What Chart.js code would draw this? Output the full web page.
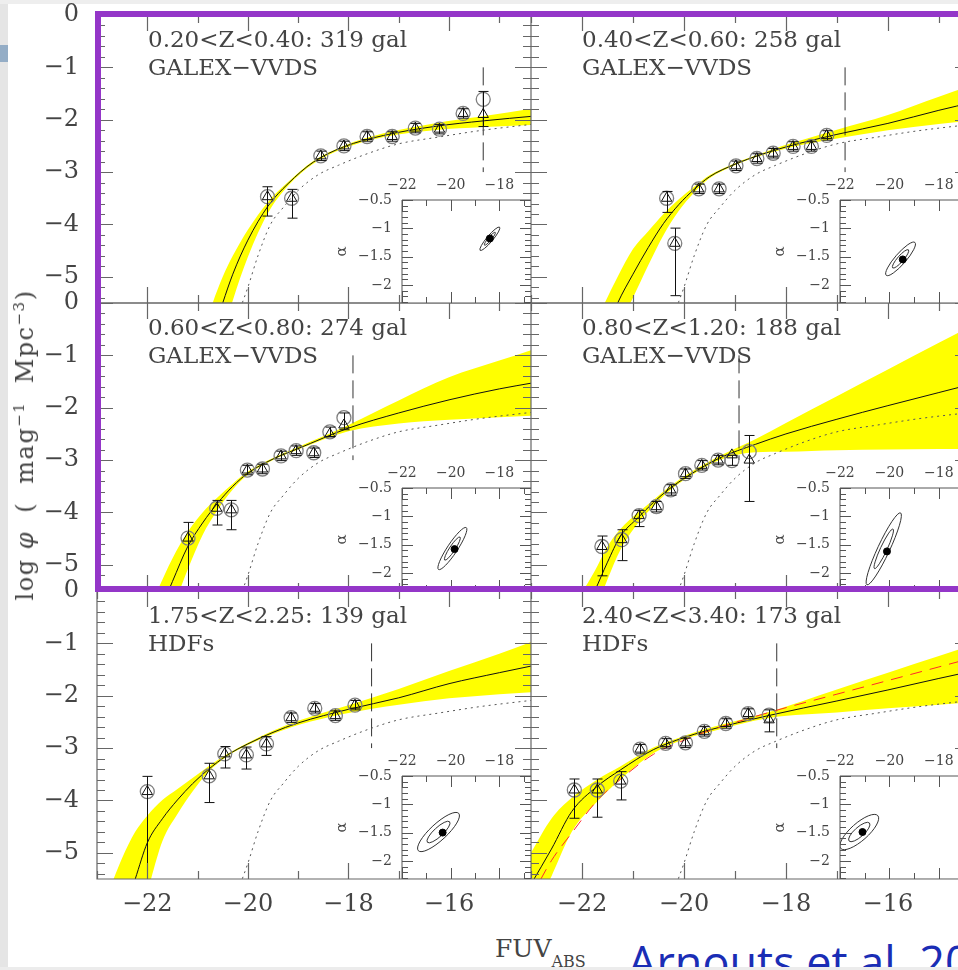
<!DOCTYPE html>
<html>
<head>
<meta charset="utf-8">
<script src="https://cdn.jsdelivr.net/npm/chart.js@4.4.0/dist/chart.umd.min.js"></script>
<style>
  html, body { margin: 0; padding: 0; }
  body { width: 958px; height: 970px; overflow: hidden; background: #fff; position: relative; font-family: "DejaVu Serif", serif; }
  canvas { position: absolute; }
  .strip { position: absolute; background: #e5e5e5; }
  #frame { position: absolute; left: 95px; top: 11px; width: 900px; height: 581px; box-sizing: border-box; border: 6px solid #9436c8; }
  #ytitle { position: absolute; left: 25px; top: 445px; transform: translate(-50%, -50%) rotate(-90deg); white-space: nowrap; font-size: 24px; color: #444; letter-spacing: 1.5px; }
  #ytitle sup { font-size: 15px; vertical-align: 9px; line-height: 0; }
  #xtitle { position: absolute; left: 495px; top: 936px; font-size: 25px; line-height: 25px; color: #444; white-space: nowrap; }
  #xtitle span { font-size: 16px; position: relative; top: 10px; }
  #credit { position: absolute; left: 628px; top: 939px; font-family: "Open Sans", sans-serif; font-size: 45px; line-height: 45px; color: #1a2db5; white-space: nowrap; }
</style>
</head>
<body>
<div class="strip" style="left:0;top:0;width:8px;height:970px"></div>
<div class="strip" style="left:0;top:0;width:958px;height:4px;background:#eeeeee"></div>
<div style="position:absolute;left:0;top:45px;width:8px;height:17px;background:#94adc6"></div>

<script>
// tick labels
const magTicks = [-22, -20, -18, -16];
const phiTicks = [0, -1, -2, -3, -4, -5];
const insetMagTicks = [-22, -20, -18];
const insetAlphaTicks = [-0.5, -1, -1.5, -2];

// dotted reference curve (same in every panel)
const refMag = [-20.15, -20.0, -19.8, -19.55, -19.3, -19.0, -18.6, -18.2, -17.6, -17.0, -16.2, -15.4, -14.2];
const refPhi = [-5.6, -5.2, -4.6, -4.0, -3.68, -3.35, -3.05, -2.87, -2.64, -2.46, -2.33, -2.21, -2.07];

// panel 1: 0.20<z<0.40
const p1Label = ['0.20<Z<0.40: 319 gal', 'GALEX\u2212VVDS'];
const p1Mag = [-19.61, -19.13, -18.55, -18.09, -17.63, -17.13, -16.67, -16.19, -15.72, -15.32];
const p1Circ = [-3.47, -3.50, -2.69, -2.50, -2.32, -2.32, -2.16, -2.18, -1.88, -1.61];
const p1Tri = [-3.47, -3.50, -2.69, -2.50, -2.32, -2.32, -2.16, -2.18, -1.88, -1.90];
const p1Hi = [-3.28, -3.33, -2.60, -2.41, -2.23, -2.23, -2.07, -2.09, -1.79, -1.46];
const p1Lo = [-3.84, -3.88, -2.78, -2.59, -2.41, -2.41, -2.25, -2.27, -1.97, -2.13];
const p1FitMag = [-21.0, -20.7, -20.5, -20.3, -20.0, -19.6, -19.2, -18.7, -18.1, -17.3, -16.3, -15.3, -14.3];
const p1Fit = [-7.05, -6.1, -5.5, -4.95, -4.3, -3.65, -3.22, -2.81, -2.52, -2.3, -2.13, -2.02, -1.93];
const p1BandHi = [-6.42, -5.5, -5.0, -4.6, -4.1, -3.57, -3.19, -2.79, -2.5, -2.26, -2.07, -1.93, -1.78];
const p1BandLo = [-8.0, -7.0, -6.1, -5.45, -4.62, -3.78, -3.26, -2.84, -2.55, -2.33, -2.2, -2.14, -2.10];
const p1Lim = -15.32;
const p1Best = [-18.39, -1.18];
const p1Ellipse = [-18.39, -1.185, 0.40, 0.205, 0.2];

// panel 2: 0.40<z<0.60
const p2Label = ['0.40<Z<0.60: 258 gal', 'GALEX\u2212VVDS'];
const p2Mag = [-20.34, -20.18, -19.71, -19.31, -18.98, -18.57, -18.25, -17.86, -17.50, -17.20];
const p2Circ = [-3.50, -4.36, -3.32, -3.32, -2.88, -2.74, -2.64, -2.51, -2.51, -2.30];
const p2Tri = [-3.50, -4.36, -3.32, -3.32, -2.88, -2.74, -2.64, -2.51, -2.51, -2.30];
const p2Hi = [-3.37, -4.07, -3.23, -3.23, -2.79, -2.65, -2.55, -2.42, -2.42, -2.21];
const p2Lo = [-3.77, -5.36, -3.41, -3.41, -2.97, -2.83, -2.73, -2.60, -2.60, -2.39];
const p2FitMag = [-21.8, -21.3, -21.0, -20.7, -20.4, -20.1, -19.8, -19.5, -19.0, -18.5, -18.0, -17.0, -16.0, -15.0, -14.3];
const p2Fit = [-6.7, -5.5, -4.95, -4.44, -3.98, -3.62, -3.33, -3.09, -2.85, -2.67, -2.52, -2.28, -2.07, -1.82, -1.66];
const p2BandHi = [-6.0, -5.0, -4.47, -4.13, -3.8, -3.52, -3.28, -3.06, -2.83, -2.65, -2.48, -2.19, -1.91, -1.56, -1.33];
const p2BandLo = [-7.5, -6.0, -5.4, -4.78, -4.2, -3.74, -3.39, -3.12, -2.87, -2.69, -2.55, -2.36, -2.2, -2.08, -2.02];
const p2Lim = -16.84;
const p2Best = [-19.46, -1.55];
const p2Ellipse = [-19.55, -1.54, 0.58, 0.29, 0.25];

// panel 3: 0.60<z<0.80
const p3Label = ['0.60<Z<0.80: 274 gal', 'GALEX\u2212VVDS'];
const p3Mag = [-21.19, -20.62, -20.33, -20.01, -19.71, -19.34, -19.04, -18.69, -18.37, -18.09];
const p3Circ = [-4.49, -3.92, -3.95, -3.19, -3.17, -2.92, -2.82, -2.86, -2.46, -2.19];
const p3Tri = [-4.49, -3.92, -3.95, -3.19, -3.17, -2.92, -2.82, -2.86, -2.50, -2.33];
const p3Hi = [-4.19, -3.77, -3.77, -3.10, -3.08, -2.83, -2.73, -2.77, -2.37, -2.10];
const p3Lo = [-5.80, -4.24, -4.33, -3.28, -3.26, -3.01, -2.91, -2.95, -2.55, -2.42];
const p3FitMag = [-22.2, -21.8, -21.5, -21.2, -20.9, -20.6, -20.3, -20.0, -19.5, -19.0, -18.0, -17.0, -16.0, -15.0, -14.3];
const p3Fit = [-6.9, -6.0, -5.32, -4.66, -4.2, -3.82, -3.5, -3.25, -2.98, -2.78, -2.39, -2.1, -1.85, -1.64, -1.52];
const p3BandHi = [-6.4, -5.5, -4.88, -4.38, -4.0, -3.71, -3.45, -3.22, -2.96, -2.75, -2.33, -1.86, -1.42, -1.1, -0.88];
const p3BandLo = [-7.5, -6.45, -5.85, -5.1, -4.43, -3.95, -3.56, -3.28, -3.0, -2.8, -2.45, -2.3, -2.23, -2.18, -2.15];
const p3Lim = -17.91;
const p3Best = [-19.84, -1.58];
const p3Ellipse = [-19.93, -1.57, 0.57, 0.37, 0.2];

// panel 4: 0.80<z<1.20
const p4Label = ['0.80<Z<1.20: 188 gal', 'GALEX\u2212VVDS'];
const p4Mag = [-21.61, -21.22, -20.88, -20.54, -20.26, -19.97, -19.65, -19.33, -19.06, -18.72];
const p4Circ = [-4.65, -4.52, -4.06, -3.89, -3.57, -3.26, -3.10, -3.00, -3.01, -2.84];
const p4Tri = [-4.65, -4.52, -4.06, -3.89, -3.57, -3.26, -3.10, -3.00, -2.90, -3.00];
const p4Hi = [-4.45, -4.33, -3.96, -3.79, -3.47, -3.17, -3.01, -2.91, -2.91, -2.53];
const p4Lo = [-5.21, -4.92, -4.27, -3.99, -3.67, -3.35, -3.19, -3.09, -3.10, -3.79];
const p4FitMag = [-22.3, -21.75, -21.5, -21.25, -20.9, -20.6, -20.3, -19.9, -19.3, -18.6, -18.0, -17.0, -16.0, -15.0, -14.2];
const p4Fit = [-6.6, -5.5, -4.95, -4.46, -4.1, -3.81, -3.56, -3.29, -2.96, -2.70, -2.5, -2.22, -1.96, -1.71, -1.51];
const p4BandHi = [-6.0, -5.12, -4.65, -4.32, -4.0, -3.76, -3.52, -3.25, -2.92, -2.6, -2.29, -1.78, -1.27, -0.76, -0.35];
const p4BandLo = [-7.2, -5.9, -5.28, -4.72, -4.2, -3.88, -3.6, -3.32, -3.0, -2.85, -2.84, -2.81, -2.8, -2.79, -2.79];
const p4Lim = -18.92;
const p4Best = [-20.1, -1.62];
const p4Ellipse = [-20.23, -1.575, 0.68, 0.635, 0.15];

// panel 5: 1.75<z<2.25
const p5Label = ['1.75<Z<2.25: 139 gal', 'HDFs'];
const p5Mag = [-22.00, -20.77, -20.46, -20.03, -19.63, -19.14, -18.67, -18.26, -17.87];
const p5Circ = [-3.83, -3.53, -3.11, -3.13, -2.92, -2.42, -2.24, -2.38, -2.18];
const p5Tri = [-3.83, -3.53, -3.11, -3.13, -2.92, -2.42, -2.24, -2.38, -2.18];
const p5Hi = [-3.54, -3.29, -2.97, -2.98, -2.78, -2.33, -2.15, -2.29, -2.09];
const p5Lo = [-5.80, -4.04, -3.38, -3.40, -3.14, -2.51, -2.33, -2.47, -2.27];
const p5FitMag = [-22.8, -22.5, -22.24, -22.0, -21.7, -21.4, -21.1, -20.8, -20.4, -20.0, -19.5, -19.0, -18.0, -17.0, -16.0, -15.0, -14.3];
const p5Fit = [-7.0, -6.25, -5.5, -4.81, -4.35, -3.99, -3.68, -3.42, -3.13, -2.92, -2.7, -2.52, -2.26, -2.04, -1.77, -1.56, -1.42];
const p5BandHi = [-5.82, -5.1, -4.6, -4.29, -3.99, -3.78, -3.57, -3.36, -3.11, -2.9, -2.67, -2.48, -2.18, -1.87, -1.53, -1.2, -0.95];
const p5BandLo = [-8.0, -7.3, -6.5, -5.75, -4.78, -4.26, -3.83, -3.47, -3.15, -2.94, -2.73, -2.56, -2.33, -2.17, -2.05, -1.97, -1.93];
const p5Lim = -17.54;
const p5Best = [-20.33, -1.5];
const p5Ellipse = [-20.5, -1.49, 0.83, 0.33, 0.3];

// panel 6: 2.40<z<3.40 (with red dashed alternative fit)
const p6Label = ['2.40<Z<3.40: 173 gal', 'HDFs'];
const p6Mag = [-22.15, -21.70, -21.24, -20.86, -20.36, -19.97, -19.60, -19.18, -18.74, -18.33];
const p6Circ = [-3.80, -3.80, -3.63, -3.02, -2.91, -2.90, -2.68, -2.53, -2.34, -2.37];
const p6Tri = [-3.80, -3.80, -3.63, -3.02, -2.91, -2.90, -2.68, -2.53, -2.34, -2.46];
const p6Hi = [-3.59, -3.59, -3.45, -2.93, -2.82, -2.81, -2.59, -2.44, -2.25, -2.27];
const p6Lo = [-4.34, -4.32, -3.99, -3.11, -3.00, -2.99, -2.77, -2.62, -2.43, -2.69];
const p6FitMag = [-23.0, -22.6, -22.2, -21.7, -21.25, -20.6, -20.0, -19.6, -18.3, -17.0, -16.0, -15.0, -14.2];
const p6Fit = [-5.6, -4.93, -4.21, -3.73, -3.42, -3.03, -2.8, -2.68, -2.37, -2.1, -1.89, -1.67, -1.5];
const p6Alt = [-5.85, -5.15, -4.62, -4.0, -3.6, -3.12, -2.85, -2.7, -2.31, -1.97, -1.71, -1.45, -1.24];
const p6BandHi = [-5.0, -4.35, -3.95, -3.6, -3.35, -2.99, -2.77, -2.64, -2.3, -1.88, -1.56, -1.24, -0.99];
const p6BandLo = [-6.2, -5.45, -4.6, -4.02, -3.6, -3.1, -2.83, -2.72, -2.42, -2.32, -2.24, -2.17, -2.11];
const p6Lim = -18.18;
const p6Best = [-21.09, -1.49];
const p6Ellipse = [-21.22, -1.49, 0.75, 0.29, 0.35];

const panels = [
  { col: 0, row: 0, label: p1Label, mag: p1Mag, circ: p1Circ, tri: p1Tri, hi: p1Hi, lo: p1Lo, fitMag: p1FitMag, fit: p1Fit, bandHi: p1BandHi, bandLo: p1BandLo, lim: p1Lim, best: p1Best, ell: p1Ellipse },
  { col: 1, row: 0, label: p2Label, mag: p2Mag, circ: p2Circ, tri: p2Tri, hi: p2Hi, lo: p2Lo, fitMag: p2FitMag, fit: p2Fit, bandHi: p2BandHi, bandLo: p2BandLo, lim: p2Lim, best: p2Best, ell: p2Ellipse },
  { col: 0, row: 1, label: p3Label, mag: p3Mag, circ: p3Circ, tri: p3Tri, hi: p3Hi, lo: p3Lo, fitMag: p3FitMag, fit: p3Fit, bandHi: p3BandHi, bandLo: p3BandLo, lim: p3Lim, best: p3Best, ell: p3Ellipse },
  { col: 1, row: 1, label: p4Label, mag: p4Mag, circ: p4Circ, tri: p4Tri, hi: p4Hi, lo: p4Lo, fitMag: p4FitMag, fit: p4Fit, bandHi: p4BandHi, bandLo: p4BandLo, lim: p4Lim, best: p4Best, ell: p4Ellipse },
  { col: 0, row: 2, label: p5Label, mag: p5Mag, circ: p5Circ, tri: p5Tri, hi: p5Hi, lo: p5Lo, fitMag: p5FitMag, fit: p5Fit, bandHi: p5BandHi, bandLo: p5BandLo, lim: p5Lim, best: p5Best, ell: p5Ellipse },
  { col: 1, row: 2, label: p6Label, mag: p6Mag, circ: p6Circ, tri: p6Tri, hi: p6Hi, lo: p6Lo, fitMag: p6FitMag, fit: p6Fit, bandHi: p6BandHi, bandLo: p6BandLo, lim: p6Lim, best: p6Best, ell: p6Ellipse, alt: p6Alt }
];

Chart.defaults.font.family = '"DejaVu Serif", serif';
Chart.defaults.color = '#444';

const panelTop = [15, 303, 591];
const minus = v => String(v).replace('-', '\u2212');
const xy = (xs, ys) => xs.map((x, i) => ({ x, y: ys[i] }));
const noGrid = { display: false, drawTicks: false };

function steps(min, max, step) {
  const out = [];
  for (let k = Math.ceil(min / step - 1e-6); k * step <= max + 1e-6; k++) out.push(+(k * step).toFixed(6));
  return out;
}
function onStep(v, step) {
  const r = v / step;
  return Math.abs(r - Math.round(r)) < 1e-6;
}
// fixed axis box, no extra room for overflowing labels
function fixSize(s, w, h) {
  if (w !== null) s.width = w;
  if (h !== null) s.height = h;
  s.paddingTop = 0; s.paddingBottom = 0; s.paddingLeft = 0; s.paddingRight = 0;
}

// frame with inward ticks on all four sides
const frameTicks = {
  id: 'frameTicks',
  afterDraw(chart, args, o) {
    const { ctx, chartArea: a, scales: { x, y } } = chart;
    ctx.save();
    ctx.strokeStyle = o.color;
    ctx.lineWidth = o.width;
    ctx.beginPath();
    for (const v of steps(x.min, x.max, o.xMinor)) {
      const p = Math.round(x.getPixelForValue(v)) + 0.5;
      const len = onStep(v, o.xMajor) ? o.major : o.minor;
      ctx.moveTo(p, a.top); ctx.lineTo(p, a.top + len);
      ctx.moveTo(p, a.bottom); ctx.lineTo(p, a.bottom - len);
    }
    for (const v of steps(y.min, y.max, o.yMinor)) {
      const p = Math.round(y.getPixelForValue(v)) + 0.5;
      const len = onStep(v, o.yMajor) ? o.major : o.minor;
      ctx.moveTo(a.left, p); ctx.lineTo(a.left + len, p);
      ctx.moveTo(a.right, p); ctx.lineTo(a.right - len, p);
    }
    ctx.rect(a.left, a.top, a.right - a.left, a.bottom - a.top);
    ctx.stroke();
    ctx.restore();
  }
};

const errorBars = {
  id: 'errorBars',
  afterDatasetsDraw(chart, args, o) {
    const { ctx, chartArea: a, scales: { x, y } } = chart;
    ctx.save();
    ctx.beginPath();
    ctx.rect(a.left, a.top, a.right - a.left, a.bottom - a.top);
    ctx.clip();
    ctx.strokeStyle = '#111';
    ctx.lineWidth = 1;
    ctx.beginPath();
    o.mag.forEach((m, i) => {
      const px = Math.round(x.getPixelForValue(m)) + 0.5;
      const y1 = y.getPixelForValue(o.hi[i]), y2 = y.getPixelForValue(o.lo[i]);
      ctx.moveTo(px, y1); ctx.lineTo(px, y2);
      ctx.moveTo(px - 5, y1); ctx.lineTo(px + 5, y1);
      ctx.moveTo(px - 5, y2); ctx.lineTo(px + 5, y2);
    });
    ctx.stroke();
    ctx.restore();
  }
};

const panelText = {
  id: 'panelText',
  afterDraw(chart, args, o) {
    const { ctx, chartArea: a } = chart;
    ctx.save();
    ctx.font = '23px "DejaVu Serif"';
    ctx.fillStyle = '#444';
    o.lines.forEach((t, i) => ctx.fillText(t, a.left + 51, a.top + 32 + 28 * i));
    ctx.restore();
  }
};

// confidence contours of the inset (M*, alpha)
const contours = {
  id: 'contours',
  beforeDraw(chart) {
    const { ctx, chartArea: a } = chart;
    ctx.save();
    ctx.fillStyle = '#fff';
    ctx.fillRect(a.left, a.top, a.right - a.left, a.bottom - a.top);
    ctx.restore();
  },
  beforeDatasetsDraw(chart, args, o) {
    const { ctx, chartArea: a, scales: { x, y } } = chart;
    const [m, al, dm, da, ratio] = o.shape;
    const cx = x.getPixelForValue(m), cy = y.getPixelForValue(al);
    const ex = x.getPixelForValue(m + dm) - cx, ey = y.getPixelForValue(al + da) - cy;
    const len = Math.hypot(ex, ey), ang = Math.atan2(ey, ex);
    ctx.save();
    ctx.beginPath();
    ctx.rect(a.left, a.top, a.right - a.left, a.bottom - a.top);
    ctx.clip();
    ctx.strokeStyle = '#333';
    ctx.lineWidth = 1;
    [1, 0.55].forEach(s => {
      ctx.beginPath();
      ctx.ellipse(cx, cy, len * s, len * ratio * s, ang, 0, 2 * Math.PI);
      ctx.stroke();
    });
    ctx.restore();
  }
};

function addCanvas(left, top, w, h) {
  const cv = document.createElement('canvas');
  cv.width = w; cv.height = h;
  cv.style.left = left + 'px';
  cv.style.top = top + 'px';
  cv.style.width = w + 'px';
  cv.style.height = h + 'px';
  document.body.appendChild(cv);
  return cv;
}

function mainChart(p) {
  const left = p.col === 0 ? 0 : 531;
  const width = p.col === 0 ? 531 : 440;
  const bottomRow = p.row === 2;
  const cv = addCanvas(left, panelTop[p.row] - 15, width, 15 + 288 + (bottomRow ? 50 : 15));
  const curve = { showLine: true, pointRadius: 0, borderWidth: 1, cubicInterpolationMode: 'monotone', fill: false };
  const datasets = [
    { data: xy(p.mag, p.tri), showLine: false, pointStyle: 'triangle', pointRadius: 6, pointBorderColor: '#111', pointBackgroundColor: 'rgba(0,0,0,0)', pointBorderWidth: 1, order: 0 },
    { data: xy(p.mag, p.circ), showLine: false, pointStyle: 'circle', pointRadius: 7, pointBorderColor: '#808080', pointBackgroundColor: 'rgba(0,0,0,0)', pointBorderWidth: 1.3, order: 0 },
    { ...curve, data: xy(p.fitMag, p.fit), borderColor: '#111', order: 2 },
    { ...curve, data: xy(refMag, refPhi), borderColor: '#555', borderDash: [2, 4], order: 3 },
    { showLine: true, pointRadius: 0, tension: 0, data: [{ x: p.lim, y: -1 }, { x: p.lim, y: -3 }], borderColor: '#333', borderWidth: 1, borderDash: [18, 7], order: 3 },
    { ...curve, data: xy(p.fitMag, p.bandHi), borderColor: 'rgba(0,0,0,0)', backgroundColor: '#ffff00', fill: '+1', order: 9 },
    { ...curve, data: xy(p.fitMag, p.bandLo), borderColor: 'rgba(0,0,0,0)', order: 9 }
  ];
  if (p.alt) datasets.push({ ...curve, data: xy(p.fitMag, p.alt), borderColor: '#ff2a2a', borderDash: [12, 8], order: 1 });

  new Chart(cv, {
    type: 'line',
    data: { datasets },
    plugins: [frameTicks, errorBars, panelText],
    options: {
      responsive: false,
      animation: false,
      events: [],
      devicePixelRatio: 1,
      layout: { autoPadding: false, padding: { top: 15, bottom: bottomRow ? 0 : 15, left: 0, right: 0 } },
      plugins: {
        legend: { display: false },
        tooltip: { enabled: false },
        frameTicks: { color: '#666', width: 1.2, xMinor: 1, xMajor: 2, yMinor: 0.2, yMajor: 1, major: 16, minor: 8 },
        errorBars: { mag: p.mag, hi: p.hi, lo: p.lo },
        panelText: { lines: p.label }
      },
      scales: {
        x: {
          type: 'linear', min: -23, max: -14.37, display: bottomRow,
          grid: noGrid, border: { display: false },
          afterFit: s => fixSize(s, null, bottomRow ? 50 : 0),
          afterBuildTicks: s => { s.ticks = magTicks.map(v => ({ value: v })); },
          ticks: { font: { size: 24 }, padding: 11, color: '#444', maxRotation: 0, autoSkip: false, callback: minus }
        },
        y: {
          type: 'linear', min: -5.5, max: 0, display: p.col === 0,
          grid: noGrid, border: { display: false },
          afterFit: s => fixSize(s, p.col === 0 ? 97 : 0, null),
          afterBuildTicks: s => { s.ticks = phiTicks.map(v => ({ value: v })); },
          ticks: { font: { size: 24 }, padding: 18, color: '#444', autoSkip: false, callback: minus }
        }
      }
    }
  });
}

function insetChart(p) {
  const L = p.col === 0 ? 402 : 840;
  const W = p.col === 0 ? 129 : 131;
  const T = panelTop[p.row] + 185, H = 103;
  const cv = addCanvas(L - 70, T - 30, W + 70, H + 30);
  new Chart(cv, {
    type: 'line',
    data: {
      datasets: [{ data: [{ x: p.best[0], y: p.best[1] }], showLine: false, pointRadius: 3.5, pointBackgroundColor: '#000', pointBorderColor: '#000' }]
    },
    plugins: [contours, frameTicks],
    options: {
      responsive: false,
      animation: false,
      events: [],
      devicePixelRatio: 1,
      layout: { autoPadding: false, padding: 0 },
      plugins: {
        legend: { display: false },
        tooltip: { enabled: false },
        contours: { shape: p.ell },
        frameTicks: { color: '#555', width: 1, xMinor: 1, xMajor: 2, yMinor: 0.1, yMajor: 0.5, major: 11, minor: 6 }
      },
      scales: {
        x: {
          type: 'linear', position: 'top', min: -22, max: -16.7,
          grid: noGrid, border: { display: false },
          afterFit: s => fixSize(s, null, 30),
          afterBuildTicks: s => { s.ticks = insetMagTicks.map(v => ({ value: v })); },
          ticks: { font: { size: 14 }, padding: 6, color: '#444', maxRotation: 0, autoSkip: false, callback: minus }
        },
        y: {
          type: 'linear', min: -2.32, max: -0.5,
          grid: noGrid, border: { display: false },
          afterFit: s => fixSize(s, 70, null),
          afterBuildTicks: s => { s.ticks = insetAlphaTicks.map(v => ({ value: v })); },
          title: { display: true, text: '\u03b1', font: { size: 15 }, color: '#444', padding: { top: 1, bottom: 0 } },
          ticks: { font: { size: 14 }, padding: 10, color: '#444', autoSkip: false, callback: minus }
        }
      }
    }
  });
}

panels.forEach(mainChart);
panels.forEach(insetChart);
</script>

<div id="frame"></div>
<div id="ytitle">log <i>φ</i>&nbsp;&nbsp;(&nbsp;&nbsp;mag<sup>−1</sup>&nbsp;&nbsp;Mpc<sup>−3</sup>)</div>
<div id="xtitle">FUV<span>ABS</span></div>
<div id="credit">Arnouts et al. 2005</div>
<div class="strip" style="left:0;top:967px;width:958px;height:3px;background:#ececec"></div>
</body>
</html>
